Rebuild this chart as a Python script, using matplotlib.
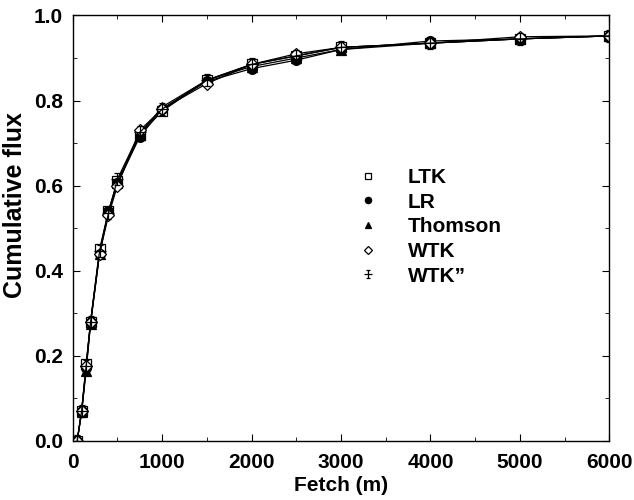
import numpy as np
import matplotlib
matplotlib.use('Agg')
import matplotlib.pyplot as plt
from matplotlib.path import Path
from matplotlib.ticker import MultipleLocator, FormatStrFormatter

plt.rcParams['font.family'] = ['Liberation Sans', 'DejaVu Sans']
plt.rcParams['font.weight'] = 'bold'

# fetch distances (m)
fetch = [50, 100, 150, 200, 300, 400, 500, 750, 1000, 1500, 2000, 2500, 3000, 4000, 5000, 6000]

# cumulative flux for each model
ltk = [0.0, 0.07, 0.18, 0.28, 0.45, 0.54, 0.61, 0.72, 0.775, 0.848, 0.885, 0.905, 0.925, 0.935, 0.945, 0.952]
lr = [0.0, 0.07, 0.17, 0.28, 0.44, 0.54, 0.605, 0.715, 0.78, 0.845, 0.875, 0.895, 0.92, 0.94, 0.945, 0.952]
thomson = [0.0, 0.068, 0.165, 0.275, 0.44, 0.54, 0.605, 0.72, 0.785, 0.848, 0.88, 0.9, 0.92, 0.935, 0.945, 0.952]
wtk = [0.0, 0.07, 0.175, 0.28, 0.44, 0.53, 0.60, 0.73, 0.78, 0.84, 0.885, 0.91, 0.925, 0.935, 0.95, 0.952]
wtk2 = [0.0, 0.07, 0.175, 0.28, 0.445, 0.535, 0.615, 0.725, 0.78, 0.848, 0.885, 0.905, 0.925, 0.935, 0.945, 0.952]

labels = ['LTK', 'LR', 'Thomson', 'WTK', 'WTK\u201d']

# cross with caps, like an error bar symbol
cap_marker = Path(
    [(0, -1), (0, 1), (-0.5, 1), (0.5, 1), (-0.5, -1), (0.5, -1), (-1, 0), (1, 0)],
    [Path.MOVETO, Path.LINETO, Path.MOVETO, Path.LINETO, Path.MOVETO, Path.LINETO, Path.MOVETO, Path.LINETO])

fig = plt.figure(figsize=(6.34, 5.0), dpi=100)
ax = fig.add_axes([0.1147, 0.1186, 0.8463, 0.8504])

styles = [
    dict(marker='s', mfc='white', ms=7),
    dict(marker='o', mfc='black', ms=7),
    dict(marker='^', mfc='black', ms=7),
    dict(marker='D', mfc='white', ms=6),
    dict(marker=cap_marker, mfc='none', ms=9),
]
for ys, lab, st in zip([ltk, lr, thomson, wtk, wtk2], labels, styles):
    ax.plot(fetch, ys, color='black', lw=0.9, mec='black', mew=0.9, label=lab, **st)

ax.set_xlim(0, 6000)
ax.set_ylim(0, 1.0)
ax.xaxis.set_major_locator(MultipleLocator(1000))
ax.xaxis.set_minor_locator(MultipleLocator(500))
ax.yaxis.set_major_locator(MultipleLocator(0.2))
ax.yaxis.set_minor_locator(MultipleLocator(0.1))
ax.yaxis.set_major_formatter(FormatStrFormatter('%.1f'))
ax.tick_params(which='both', direction='in', top=True, right=True, labelsize=15, width=0.8)
ax.tick_params(which='major', length=5)
ax.tick_params(which='minor', length=3, width=0.6)
ax.tick_params(axis='x', pad=9)
ax.tick_params(axis='y', pad=7)
for s in ax.spines.values():
    s.set_linewidth(1.0)

ax.set_xlabel('Fetch (m)', fontsize=15, fontweight='bold', labelpad=3)
ax.set_ylabel('Cumulative flux', fontsize=18, fontweight='bold')
ax.yaxis.set_label_coords(-0.085, 0.555)

leg = ax.legend(loc='upper left', bbox_to_anchor=(358 / 634, 1 - 168 / 500),
                bbox_transform=fig.transFigure, frameon=False, fontsize=15,
                markerscale=0.65, handlelength=1.0, handletextpad=1.4,
                labelspacing=0.27, borderpad=0, borderaxespad=0)
for h in leg.legend_handles:
    h.set_linestyle('none')

plt.savefig('out.png', dpi=100)
